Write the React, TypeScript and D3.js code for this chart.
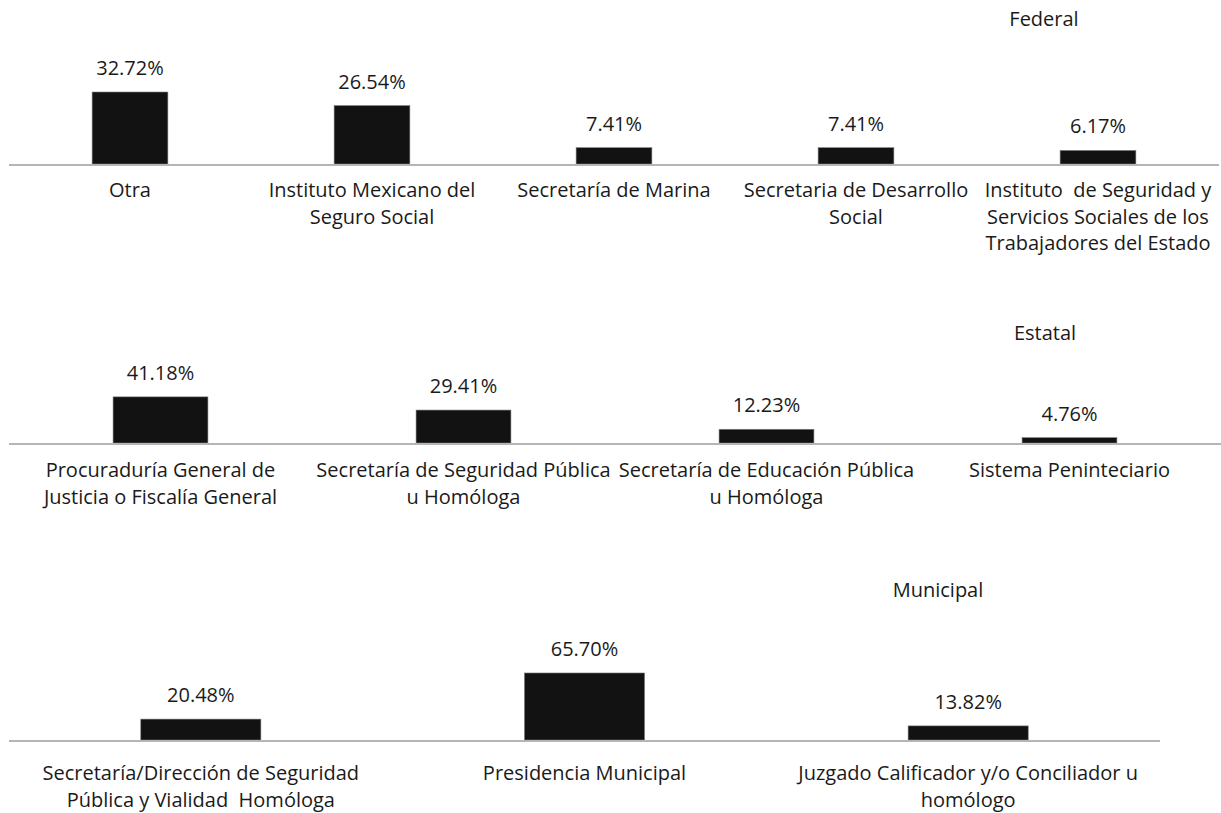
import * as React from 'react'
import * as d3 from 'd3'

// Federal
const federalCategories: string[][] = [
	['Otra'],
	['Instituto Mexicano del', 'Seguro Social'],
	['Secretaría de Marina'],
	['Secretaria de Desarrollo', 'Social'],
	['Instituto  de Seguridad y', 'Servicios Sociales de los', 'Trabajadores del Estado'],
]
const federalValues = [32.72, 26.54, 7.41, 7.41, 6.17]

// Estatal
const estatalCategories: string[][] = [
	['Procuraduría General de', 'Justicia o Fiscalía General'],
	['Secretaría de Seguridad Pública', 'u Homóloga'],
	['Secretaría de Educación Pública', 'u Homóloga'],
	['Sistema Peninteciario'],
]
const estatalValues = [41.18, 29.41, 12.23, 4.76]

// Municipal
const municipalCategories: string[][] = [
	['Secretaría/Dirección de Seguridad', 'Pública y Vialidad  Homóloga'],
	['Presidencia Municipal'],
	['Juzgado Calificador y/o Conciliador u', 'homólogo'],
]
const municipalValues = [20.48, 65.7, 13.82]

const panelTitles = ['Federal', 'Estatal', 'Municipal']

// layout of each panel
const layout = [
	{ x0: 9, x1: 1219, base: 164, yMax: 35, yPx: 77, titleX: 1044, titleY: 26, labelY: 197 },
	{ x0: 9, x1: 1221, base: 443, yMax: 45, yPx: 50.4, titleX: 1045, titleY: 340, labelY: 477 },
	{ x0: 9, x1: 1160, base: 740, yMax: 70, yPx: 71.4, titleX: 938, titleY: 597, labelY: 780 },
]

const FONT = '"Open Sans", Lato, sans-serif'
const FONT_SIZE = 20
const LINE_H = 26.5

interface PanelProps {
	title: string
	cats: string[][]
	vals: number[]
	cfg: typeof layout[0]
}

const Panel: React.FC<PanelProps> = ({ title, cats, vals, cfg }) => {
	const x = d3.scaleBand<number>()
		.domain(cats.map((_, i) => i))
		.range([cfg.x0, cfg.x1])
		.padding(0)
	const y = d3.scaleLinear()
		.domain([0, cfg.yMax])
		.range([cfg.base, cfg.base - cfg.yPx])
	const barW = x.bandwidth() * 0.313

	return (
		<g>
			<text x={cfg.titleX} y={cfg.titleY} textAnchor="middle">{title}</text>
			{vals.map((v, i) => {
				const cx = x(i)! + x.bandwidth() / 2
				return (
					<g key={i}>
						<rect x={cx - barW / 2} y={y(v)} width={barW} height={cfg.base - y(v)}
							fill="#121212" stroke="#7a7a7a" strokeWidth={0.6} />
						<text x={cx} y={y(v) - 17} textAnchor="middle">{v.toFixed(2) + '%'}</text>
					</g>
				)
			})}
			<line x1={cfg.x0} x2={cfg.x1} y1={cfg.base + 1} y2={cfg.base + 1} stroke="#b5b5b5" strokeWidth={2} />
			{cats.map((lines, i) => {
				const cx = x(i)! + x.bandwidth() / 2
				return (
					<text key={i} textAnchor="middle" style={{ whiteSpace: 'pre' }}>
						{lines.map((l, j) => (
							<tspan key={j} x={cx} y={cfg.labelY + j * LINE_H}>{l}</tspan>
						))}
					</text>
				)
			})}
		</g>
	)
}

const App: React.FC = () => {
	const data = [
		{ cats: federalCategories, vals: federalValues },
		{ cats: estatalCategories, vals: estatalValues },
		{ cats: municipalCategories, vals: municipalValues },
	]
	return (
		<svg width={1221} height={813}
			style={{ position: 'absolute', left: 0, top: 0, background: '#fff' }}
			fontFamily={FONT} fontSize={FONT_SIZE} fill="#1a1a1a">
			{data.map((d, i) => (
				<Panel key={i} title={panelTitles[i]} cats={d.cats} vals={d.vals} cfg={layout[i]} />
			))}
		</svg>
	)
}

export default App
